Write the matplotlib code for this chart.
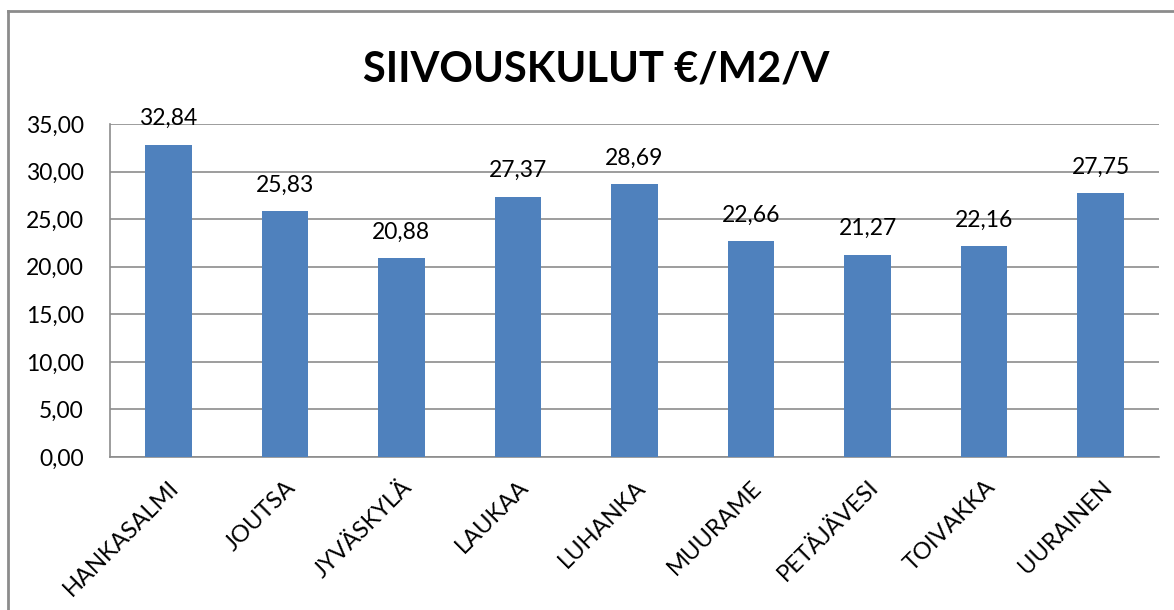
import matplotlib.pyplot as plt
from matplotlib.lines import Line2D

categories = ["HANKASALMI", "JOUTSA", "JYVÄSKYLÄ", "LAUKAA", "LUHANKA",
              "MUURAME", "PETÄJÄVESI", "TOIVAKKA", "UURAINEN"]
values = [32.84, 25.83, 20.88, 27.37, 28.69, 22.66, 21.27, 22.16, 27.75]
yticks = [0, 5, 10, 15, 20, 25, 30, 35]

plt.rcParams["font.family"] = ["Lato", "DejaVu Sans"]

fig = plt.figure(figsize=(11.74, 6.10), dpi=100)
ax = fig.add_axes([110 / 1174, 1 - 457 / 610, 1049 / 1174, 333 / 610])

x = range(len(categories))
ax.bar(x, values, width=0.4, color="#4F81BD", zorder=3)
for xi, v in zip(x, values):
    ax.annotate(f"{v:.2f}".replace(".", ","), (xi, v), xytext=(0, 14),
                textcoords="offset points", ha="center", va="baseline",
                fontsize=16.5, color="black")

ax.set_xlim(-0.5, len(categories) - 0.5)
ax.set_ylim(0, 35)
ax.set_yticks(yticks)
ax.set_yticklabels([f"{t:.2f}".replace(".", ",") for t in yticks], fontsize=16.5)
ax.set_xticks(list(x))
ax.set_xticklabels(categories, rotation=45, ha="right", rotation_mode="anchor", fontsize=17)
ax.tick_params(axis="both", length=0)
ax.tick_params(axis="y", pad=19)
ax.tick_params(axis="x", pad=14)

ax.grid(axis="y", color="#8c8c8c", linewidth=1.2, zorder=0)
for s in ["top", "right"]:
    ax.spines[s].set_visible(False)
for s in ["left", "bottom"]:
    ax.spines[s].set_color("#8c8c8c")
    ax.spines[s].set_linewidth(1.2)

fig.suptitle("SIIVOUSKULUT €/M2/V", x=596 / 1174, y=1 - 70 / 610, va="center",
             fontsize=30, fontweight="bold")

# chart border (only left and top visible in the reference)
fig.add_artist(Line2D([8 / 1174, 8 / 1174], [0, 1 - 11 / 610], color="#8c8c8c", lw=2))
fig.add_artist(Line2D([8 / 1174, 1], [1 - 11 / 610, 1 - 11 / 610], color="#8c8c8c", lw=2))

fig.savefig("out.png", dpi=100)
